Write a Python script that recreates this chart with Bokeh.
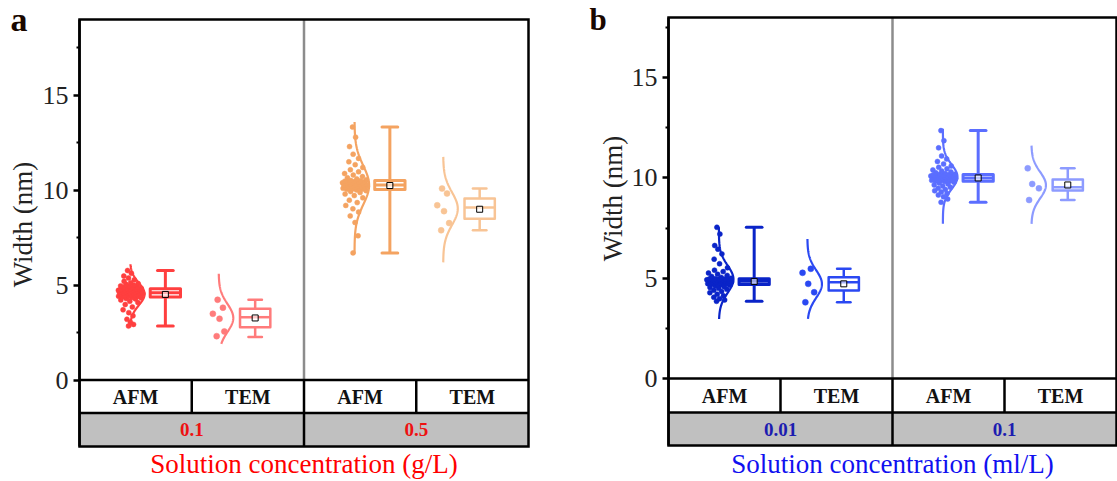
import numpy as np
from bokeh.plotting import figure
from bokeh.layouts import row
from bokeh.models import FixedTicker, Range1d
from bokeh.core.properties import value
from bokeh.embed import file_html
from bokeh.resources import INLINE

SERIF = "Liberation Serif"

# ---------------- data ----------------
methods = ["AFM", "TEM", "AFM", "TEM"]
conc_a = ["0.1", "0.5"]
conc_b = ["0.01", "0.1"]

afm_a_01 = [2.84, 2.93, 3.05, 3.20, 3.38, 3.55, 3.70, 3.85, 3.98, 4.08, 4.15, 4.22, 4.27, 4.30, 4.32, 4.35,
            4.38, 4.40, 4.40, 4.42, 4.45, 4.46, 4.47, 4.50, 4.50, 4.52, 4.55, 4.55, 4.56, 4.58, 4.60, 4.60,
            4.61, 4.63, 4.65, 4.65, 4.67, 4.70, 4.70, 4.71, 4.73, 4.74, 4.75, 4.77, 4.78, 4.78, 4.80, 4.81,
            4.83, 4.86, 4.88, 4.90, 4.93, 4.96, 5.00, 5.04, 5.08, 5.13, 5.20, 5.28, 5.37, 5.48, 5.62, 5.77]
tem_a_01 = [4.23, 3.81, 3.49, 3.23, 2.56, 2.31]
afm_a_05 = [6.70, 7.60, 8.30, 8.65, 8.85, 9.02, 9.20, 9.35, 9.48, 9.60, 9.72, 9.80, 9.88, 9.93, 9.98, 10.02,
            10.05, 10.06, 10.08, 10.10, 10.10, 10.12, 10.14, 10.15, 10.17, 10.18, 10.20, 10.21, 10.22, 10.24, 10.25, 10.27,
            10.28, 10.30, 10.31, 10.33, 10.34, 10.36, 10.37, 10.39, 10.40, 10.42, 10.43, 10.45, 10.46, 10.48, 10.50, 10.51,
            10.55, 10.60, 10.66, 10.72, 10.80, 10.88, 10.97, 11.08, 11.20, 11.35, 11.50, 11.68, 11.90, 12.30, 12.80, 13.33]
tem_a_05 = [10.09, 9.83, 9.21, 8.90, 8.27, 7.89]

afm_b_001 = [3.85, 3.92, 3.98, 4.05, 4.12, 4.20, 4.28, 4.34, 4.40, 4.45, 4.50, 4.54, 4.58, 4.62, 4.65, 4.68,
             4.70, 4.71, 4.72, 4.73, 4.74, 4.75, 4.76, 4.77, 4.78, 4.79, 4.80, 4.81, 4.82, 4.83, 4.84, 4.85,
             4.86, 4.86, 4.87, 4.88, 4.89, 4.90, 4.91, 4.91, 4.92, 4.93, 4.94, 4.94, 4.95, 4.96, 4.96, 4.97,
             5.00, 5.04, 5.09, 5.14, 5.20, 5.26, 5.33, 5.40, 5.52, 5.72, 5.95, 6.21, 6.45, 6.63, 7.20, 7.54]
tem_b_001 = [5.47, 5.27, 4.72, 4.30, 3.80]
afm_b_01 = [8.79, 8.95, 9.06, 9.15, 9.22, 9.30, 9.36, 9.42, 9.48, 9.54, 9.60, 9.65, 9.70, 9.75, 9.79, 9.82,
            9.85, 9.86, 9.87, 9.88, 9.89, 9.90, 9.91, 9.93, 9.94, 9.95, 9.96, 9.97, 9.98, 9.99, 10.00, 10.01,
            10.02, 10.03, 10.04, 10.05, 10.06, 10.07, 10.08, 10.09, 10.10, 10.11, 10.12, 10.13, 10.14, 10.15, 10.16, 10.17,
            10.19, 10.22, 10.26, 10.30, 10.35, 10.40, 10.46, 10.53, 10.60, 10.70, 10.82, 10.95, 11.10, 11.50, 11.86, 12.36]
tem_b_01 = [10.48, 9.70, 9.48, 8.90]

# box statistics: lower whisker, Q1, median, Q3, upper whisker, mean
whisk_lo_a = [2.84, 2.26, 6.70, 7.89]
q1_a = [4.37, 2.78, 10.04, 8.50]
median_a = [4.60, 3.31, 10.28, 9.09]
q3_a = [4.81, 3.75, 10.52, 9.56]
whisk_hi_a = [5.77, 4.23, 13.33, 10.09]
mean_a = [4.51, 3.27, 10.25, 9.00]

whisk_lo_b = [3.85, 3.80, 8.79, 8.90]
q1_b = [4.69, 4.39, 9.84, 9.37]
median_b = [4.85, 4.80, 10.00, 9.54]
q3_b = [4.97, 5.05, 10.17, 9.92]
whisk_hi_b = [7.54, 5.47, 12.36, 10.48]
mean_b = [4.84, 4.72, 10.00, 9.65]

# extent of the fitted normal curves
curve_lo_a = [2.78, 1.91, 6.65, 6.20]
curve_hi_a = [6.10, 5.60, 13.60, 11.76]
curve_lo_b = [2.97, 2.97, 7.71, 7.71]
curve_hi_b = [7.54, 6.96, 12.45, 11.61]

colors_a = ["#FF3F3F", "#FF7B7B", "#F4A361", "#F8C495"]
colors_b = ["#0A24C8", "#2A48F2", "#5B6EFF", "#8D9BFF"]

HEIGHT = 481


def jitter_x(vals, base, amp, mu, sd):
    v = np.asarray(vals, dtype=float)
    order = np.argsort(v)
    k = np.empty(len(v))
    k[order] = np.arange(len(v))
    s = ((k * 0.6180339887 + 0.31) % 1.0) * 2 - 1
    ratio = np.exp(-0.5 * ((v - mu) / sd) ** 2)
    return base + s * amp * (0.3 + 0.7 * ratio)


def make_panel(letter, series, wlo, q1, med, q3, whi, mean, clo, chi, colors, groups,
               group_color, xtitle, xtitle_color, geo):
    W = geo["width"]
    L, R = geo["left"], geo["right"]
    top, zero, rowp, bot = geo["top"], geo["zero"], geo["row"], geo["bottom"]
    ytop = geo["ytop"]
    ppx = (R - L) / 4.0
    ppy = (zero - top) / ytop

    def X(px):
        return (px - L) / ppx

    def Y(py):
        return (zero - py) / ppy

    y_bottom = Y(bot)
    row_split = Y(rowp)

    p = figure(width=W, height=HEIGHT, output_backend="svg", toolbar_location=None,
               x_range=Range1d(X(0), X(W)), y_range=Range1d(Y(HEIGHT), Y(0)),
               min_border_left=0, min_border_right=0, min_border_top=0, min_border_bottom=0)
    p.xaxis.visible = False
    p.grid.visible = False
    p.outline_line_color = None
    p.background_fill_color = "white"
    p.border_fill_color = "white"

    ax = p.yaxis[0]
    ax.fixed_location = 0
    ax.bounds = (y_bottom, ytop)
    ax.ticker = FixedTicker(ticks=[0, 5, 10, 15], minor_ticks=[2.5, 7.5, 12.5, 17.5])
    ax.axis_line_width = 2.5
    ax.axis_line_color = "black"
    ax.major_tick_line_width = 2.5
    ax.major_tick_out = 6
    ax.major_tick_in = 0
    ax.minor_tick_line_width = 2
    ax.minor_tick_out = 3
    ax.minor_tick_in = 0
    ax.major_label_text_font = SERIF
    ax.major_label_text_font_size = "26px"
    ax.major_label_text_color = "#222222"
    ax.major_label_standoff = 5

    # table under the plot
    p.quad(left=[0], right=[4], bottom=[y_bottom], top=[row_split], fill_color="#C0C0C0", line_color=None)
    p.segment(x0=[2], y0=[0], x1=[2], y1=[ytop], line_color="#8C8C8C", line_width=2.5)
    p.segment(x0=[0, 0], y0=[0, row_split], x1=[4, 4], y1=[0, row_split], line_color="black", line_width=2.5)
    p.segment(x0=[1, 3, 2], y0=[row_split, row_split, y_bottom], x1=[1, 3, 2], y1=[0, 0, 0],
              line_color="black", line_width=2.5)
    p.quad(left=[0], right=[4], bottom=[y_bottom], top=[ytop], fill_color=None,
           line_color="black", line_width=2.5, line_join="miter")

    p.text(x=[0.5, 1.5, 2.5, 3.5], y=[row_split / 2] * 4, text=methods,
           text_font=value(SERIF), text_font_style="bold", text_font_size="20px",
           text_align="center", text_baseline="middle", text_color="#111111")
    p.text(x=[1, 3], y=[(row_split + y_bottom) / 2] * 2, text=groups,
           text_font=value(SERIF), text_font_style="bold", text_font_size="19px",
           text_align="center", text_baseline="middle", text_color=group_color)

    Wc = 0.13
    for i in range(4):
        vals = np.asarray(series[i], dtype=float)
        col = colors[i]
        cx = i + 0.5
        is_afm = methods[i] == "AFM"
        base = cx + (-0.05 if is_afm else -0.26)
        bx = cx + (0.265 if is_afm else 0.065)
        mu = vals.mean()
        sd = vals.std(ddof=1)
        xs = jitter_x(vals, base, 0.115 if is_afm else 0.08, mu, sd)
        p.scatter(xs, vals, size=5 if is_afm else 6, marker="circle",
                  fill_color=col, line_color=col, line_width=0.5)
        ys = np.linspace(clo[i], chi[i], 150)
        cxs = base + Wc * np.exp(-0.5 * ((ys - mu) / sd) ** 2)
        p.line(cxs, ys, line_color=col, line_width=2.2)
        lw = 3 if is_afm else 2.5
        bw = 0.27
        cap = 0.14 if is_afm else 0.12
        p.segment(x0=[bx, bx], y0=[q3[i], q1[i]], x1=[bx, bx], y1=[whi[i], wlo[i]], line_color=col, line_width=lw)
        p.segment(x0=[bx - cap / 2, bx - cap / 2], y0=[whi[i], wlo[i]], x1=[bx + cap / 2, bx + cap / 2],
                  y1=[whi[i], wlo[i]], line_color=col, line_width=lw, line_cap="round")
        p.quad(left=[bx - bw / 2], right=[bx + bw / 2], bottom=[q1[i]], top=[q3[i]],
               fill_color="white", line_color=col, line_width=lw, line_join="round")
        p.segment(x0=[bx - bw / 2], y0=[med[i]], x1=[bx + bw / 2], y1=[med[i]], line_color=col, line_width=lw)
        p.scatter([bx], [mean[i]], marker="square", size=6, fill_color="white", fill_alpha=0.6,
                  line_color="black", line_width=1)

    # axis title, panel letter, x title
    p.text(x=[X(geo["ylab_x"])], y=[Y(geo["ylab_y"])], text=["Width (nm)"], angle=np.pi / 2,
           text_font=value(SERIF), text_font_size="27px", text_align="center",
           text_baseline="middle", text_color="#222222")
    p.text(x=[X(geo["letter_x"])], y=[Y(geo["letter_y"])], text=[letter],
           text_font=value(SERIF), text_font_size=geo["letter_size"], text_font_style="bold",
           text_align="left", text_baseline="middle", text_color="#1a0800")
    p.text(x=[2], y=[Y(geo["xtitle_y"])], text=[xtitle], text_font=value(SERIF),
           text_font_size="27px", text_align="center", text_baseline="middle",
           text_color=xtitle_color)
    return p


geo_a = dict(width=585, left=79, right=528, top=19, zero=379.5, row=412.5, bottom=446, ytop=19.0,
             ylab_x=22, ylab_y=224, letter_x=10, letter_y=19, letter_size="34px", xtitle_y=463)
OFF = 585
geo_b = dict(width=532, left=668 - OFF, right=1116 - OFF, top=17, zero=378, row=412, bottom=445, ytop=18.0,
             ylab_x=612 - OFF, ylab_y=198, letter_x=589 - OFF, letter_y=19, letter_size="31px", xtitle_y=463)

pa = make_panel("a", [afm_a_01, tem_a_01, afm_a_05, tem_a_05], whisk_lo_a, q1_a, median_a, q3_a,
                whisk_hi_a, mean_a, curve_lo_a, curve_hi_a, colors_a, conc_a, "#EE1111",
                "Solution concentration (g/L)", "#FF0000", geo_a)
pb = make_panel("b", [afm_b_001, tem_b_001, afm_b_01, tem_b_01], whisk_lo_b, q1_b, median_b, q3_b,
                whisk_hi_b, mean_b, curve_lo_b, curve_hi_b, colors_b, conc_b, "#1C1CB0",
                "Solution concentration (ml/L)", "#1010F0", geo_b)

layout = row(pa, pb)
open("out.html", "w").write(file_html(layout, INLINE))
